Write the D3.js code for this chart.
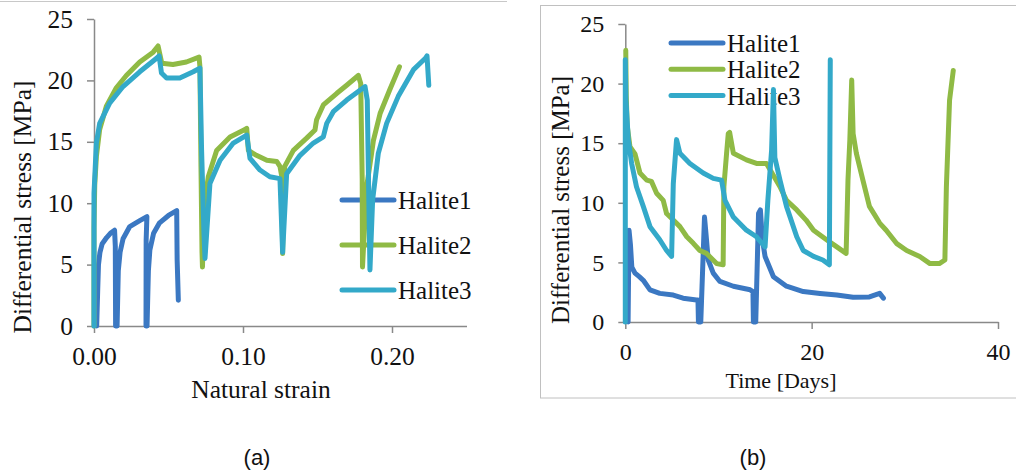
<!DOCTYPE html>
<html>
<head>
<meta charset="utf-8">
<script src="https://cdn.jsdelivr.net/npm/d3@7"></script>
<style>
  body { margin: 0; background: #fff; }
  svg { display: block; }
</style>
</head>
<body>
<svg id="vis" width="1016" height="475"></svg>
<script>
// ---- data ----
var seriesNames = ["Halite1", "Halite2", "Halite3"];
var seriesColors = ["#3b78c2", "#8fba45", "#33a9c9"];
var stressTicks = [0, 5, 10, 15, 20, 25];
var strainTicks = [0, 0.1, 0.2];
var timeTicks = [0, 20, 40];

// panel (a): [natural strain, differential stress MPa]
var strainHalite1 = [[0.0018,0],[0.0025,3],[0.003,5],[0.004,6],[0.0055,6.7],[0.0085,7.2],[0.011,7.55],[0.0138,7.8],[0.0143,6.5],[0.0145,0],
  [0.0155,0],[0.0163,4.5],[0.0175,6],[0.0195,7.1],[0.024,8.1],[0.031,8.6],[0.0355,8.9],[0.035,7],[0.0349,0],
  [0.0356,0],[0.0365,4.5],[0.0375,6.2],[0.040,7.55],[0.044,8.4],[0.050,9.0],[0.0555,9.4],[0.0558,5.4],[0.0566,2.1]];
var strainHalite2 = [[0,0],[0,8],[0.0005,11.5],[0.0016,13.8],[0.0038,16.0],[0.0083,17.9],[0.015,19.4],[0.0217,20.4],
  [0.0307,21.5],[0.0397,22.3],[0.043,22.8],[0.0455,21.4],[0.053,21.3],[0.062,21.5],[0.0705,21.9],[0.0711,21.1],
  [0.0718,13],[0.0725,6],[0.0728,4.8],[0.0738,9.7],[0.0767,12.15],[0.0823,14.3],[0.0913,15.4],[0.1013,16.0],[0.1025,16.1],
  [0.1036,14.3],[0.109,13.9],[0.116,13.5],[0.1226,13.4],[0.1248,13.0],[0.126,12.2],[0.1266,5.9],[0.1272,11],[0.128,13.0],
  [0.1338,14.3],[0.1427,15.3],[0.1483,15.96],[0.1494,16.8],[0.1539,18.0],[0.163,18.95],[0.1696,19.6],[0.1774,20.4],
  [0.179,19.75],[0.1800,12],[0.1802,4.8],[0.183,11.35],[0.1863,14.06],[0.1875,15.1],[0.192,17.3],[0.1987,19.3],[0.2050,21.1]];
var strainHalite3 = [[0,0],[0,10.8],[0.0016,14.9],[0.0038,16.5],[0.0105,18.15],[0.0195,19.5],[0.0307,20.7],[0.042,21.8],
  [0.0437,22.0],[0.0453,20.6],[0.0487,20.2],[0.0576,20.2],[0.0666,20.7],[0.0711,21.0],[0.0722,14.35],[0.0738,7.55],
  [0.0745,5.5],[0.0778,11.6],[0.0846,13.5],[0.0935,14.9],[0.1025,15.55],[0.1047,13.65],[0.1114,12.7],[0.118,12.15],
  [0.1248,12.0],[0.1266,6.0],[0.1293,12.4],[0.1383,13.9],[0.1472,14.9],[0.1539,15.4],[0.1562,16.5],[0.1606,17.45],
  [0.1696,18.4],[0.1819,19.5],[0.1834,18.4],[0.1852,4.56],[0.187,10.26],[0.1908,14.06],[0.1964,16.5],[0.2042,18.7],
  [0.2146,20.9],[0.2224,21.8],[0.2235,22.0],[0.2247,19.6]];

// panel (b): [time days, differential stress MPa]
var timeHalite1 = [[0.3,0],[0.4,7.7],[0.55,6.5],[0.7,4.6],[1.04,4.1],[1.5,3.8],[1.93,3.5],[2.65,2.7],[3.7,2.4],[5.15,2.26],[6.2,2.0],
  [7.65,1.85],[7.8,1.85],[7.85,0],[8.1,0],[8.5,8.8],[8.65,7.5],[8.9,5.2],[9.44,4.1],[10.15,3.4],[11.6,3.0],[13.4,2.7],
  [13.7,2.55],[13.75,0],[14.0,0],[14.3,9.1],[14.5,9.4],[14.7,7],[15.0,5.5],[15.9,3.8],[17.3,3.0],[19.1,2.55],[20.9,2.4],
  [22.7,2.26],[24.45,2.07],[26.2,2.1],[27.3,2.4],[27.7,2.0]];
var timeHalite2 = [[0.05,22.8],[0.1,19],[0.2,16.5],[0.5,14.7],[1.04,14.1],[1.57,12.5],[2.3,11.9],[2.8,11.8],[3.36,10.8],
  [4.07,10.2],[4.43,9.1],[5.15,8.55],[5.86,8.0],[6.6,7.15],[7.3,6.6],[8.0,6.0],[8.7,5.76],[9.8,4.9],[10.5,4.8],[10.58,11.35],
  [10.87,14.15],[11.05,15.8],[11.2,15.9],[11.6,14.15],[13.0,13.6],[14.08,13.3],[15.15,13.3],[16.6,11.35],[17.3,10.2],
  [18.4,9.4],[19.4,8.55],[20.2,7.7],[21.6,6.9],[22.7,6.3],[23.7,5.76],[23.9,11.9],[24.1,15.3],[24.3,20.3],[24.45,15.8],
  [24.8,14.15],[25.5,11.9],[26.2,9.7],[27.3,8.3],[28.0,7.7],[29.1,6.6],[30.2,6.0],[31.6,5.5],[32.7,4.9],[33.7,4.9],
  [34.3,5.2],[34.46,11.35],[34.8,18.6],[35.2,21.1]];
var timeHalite3 = [[0,0],[0,22],[0.07,18.6],[0.32,15.3],[0.68,13.3],[1.2,11.35],[1.93,9.7],[2.65,8.0],[3.7,6.9],[4.43,6.0],
  [4.97,5.5],[5.15,11.6],[5.5,15.3],[5.86,14.15],[6.93,13.3],[8.36,12.5],[9.44,12.05],[10.33,11.9],[10.7,10.2],[11.6,8.8],
  [13.0,7.7],[14.08,7.15],[15.0,6.3],[15.3,10.2],[15.7,14.4],[15.9,19.5],[16.05,13.8],[16.6,11.9],[17.3,9.7],[18.4,7.15],
  [19.1,6.0],[20.2,5.5],[21.2,5.2],[21.9,4.8],[22.0,22.0]];

var serif = "'Liberation Serif', 'Times New Roman', serif";
var canvas = d3.select("#vis");

// panel frames
canvas.append("line").attr("x1", 0).attr("x2", 507).attr("y1", 1.5).attr("y2", 1.5)
  .style("stroke", "#c8c8c8").style("stroke-width", 1);
canvas.append("rect").attr("x", 540.5).attr("y", 5.5).attr("width", 600).attr("height", 392.5)
  .style("fill", "none").style("stroke", "#c0c0c0").style("stroke-width", 1);

function drawAxes(xScale, yScale, xTicks, xFormat, fontSize){
  var gx = canvas.append("g")
    .attr("transform", "translate(0," + yScale(0) + ")")
    .call(d3.axisBottom(xScale).tickValues(xTicks).tickFormat(xFormat)
      .tickSize(7).tickSizeOuter(0).tickPadding(14));
  var gy = canvas.append("g")
    .attr("transform", "translate(" + xScale(0) + ",0)")
    .call(d3.axisLeft(yScale).tickValues(stressTicks).tickFormat(d3.format("d"))
      .tickSize(7).tickSizeOuter(0).tickPadding(14));
  [gx, gy].forEach(function(g){
    g.selectAll("path, line").style("stroke", "#898989").style("stroke-width", 1.5);
    g.selectAll("text").style("font-family", serif).style("font-size", fontSize + "px").style("fill", "#111");
  });
}

function plotLine(data, xScale, yScale, color){
  return canvas.append("path")
    .datum(data)
    .attr("fill", "none")
    .attr("stroke", color)
    .attr("stroke-width", 5)
    .attr("stroke-linejoin", "round")
    .attr("stroke-linecap", "round")
    .attr("d", d3.line().x(function(d){ return xScale(d[0]); }).y(function(d){ return yScale(d[1]); }));
}

function drawLegend(x0, y0, gap){
  seriesNames.forEach(function(name, i){
    var y = y0 + i * gap;
    canvas.append("line").attr("x1", x0).attr("x2", x0 + 52).attr("y1", y).attr("y2", y)
      .style("stroke", seriesColors[i]).style("stroke-width", 5).style("stroke-linecap", "round");
    canvas.append("text").attr("x", x0 + 56).attr("y", y + 9)
      .style("font-family", serif).style("font-size", "25px").style("fill", "#111")
      .text(name);
  });
}

function addText(x, y, text, size, rotate, family){
  return canvas.append("text")
    .attr("text-anchor", "middle")
    .attr("transform", "translate(" + x + "," + y + ")" + (rotate ? " rotate(-90)" : ""))
    .style("font-family", family || serif)
    .style("font-size", size + "px")
    .style("fill", "#111")
    .text(text);
}

// ---- panel (a) ----
var xA = d3.scaleLinear().domain([0, 0.25]).range([94, 466.5]);
var yA = d3.scaleLinear().domain([0, 25]).range([326, 19]);
drawAxes(xA, yA, strainTicks, d3.format(".2f"), 25.5);
drawLegend(342, 200, 45);
[strainHalite1, strainHalite2, strainHalite3].forEach(function(s, i){ plotLine(s, xA, yA, seriesColors[i]); });
addText(261, 398, "Natural strain", 25.5, false);
addText(31, 207, "Differential stress [MPa]", 25.5, true);

// ---- panel (b) ----
var xB = d3.scaleLinear().domain([0, 40]).range([625.3, 998]);
var yB = d3.scaleLinear().domain([0, 25]).range([322, 24]);
drawAxes(xB, yB, timeTicks, d3.format("d"), 24);
drawLegend(671, 43, 26.3);
[timeHalite1, timeHalite2, timeHalite3].forEach(function(s, i){ plotLine(s, xB, yB, seriesColors[i]); });
addText(781, 388, "Time [Days]", 22, false);
addText(569, 200, "Differential stress [MPa]", 25, true);

// panel labels
addText(257, 465, "(a)", 22, false, "'Liberation Sans', Arial, sans-serif");
addText(753, 465, "(b)", 22, false, "'Liberation Sans', Arial, sans-serif");
</script>
</body>
</html>
